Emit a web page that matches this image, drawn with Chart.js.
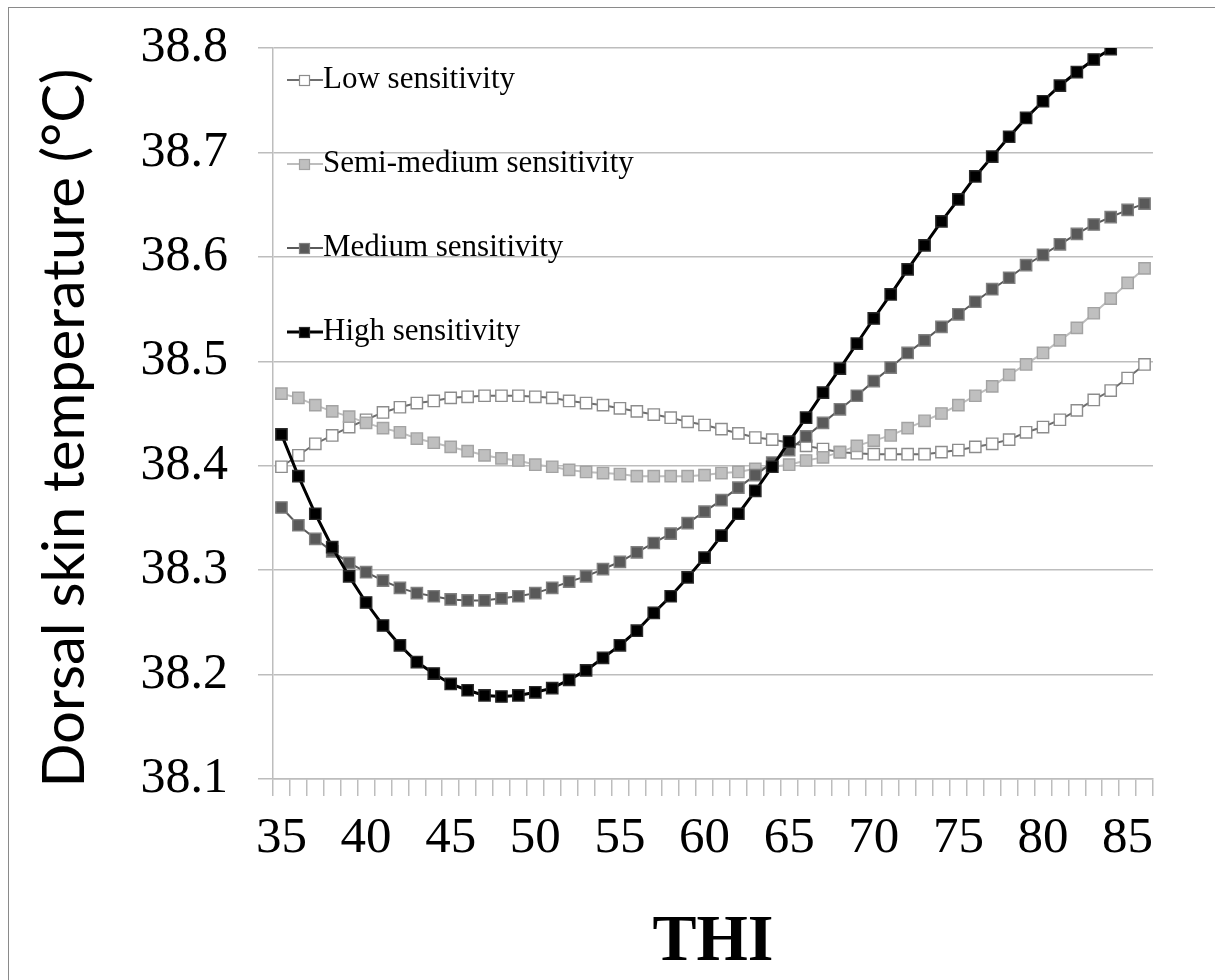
<!DOCTYPE html>
<html>
<head>
<meta charset="utf-8">
<script src="https://cdn.jsdelivr.net/npm/chart.js@4/dist/chart.umd.min.js"></script>
<style>
  html, body { margin: 0; padding: 0; background: #fff; overflow: hidden; }
  #wrap { position: relative; width: 1215px; height: 980px; }
  #frame { position: absolute; left: 8px; top: 7px; width: 1300px; height: 1100px; border: 1px solid #8a8a8a; box-sizing: border-box; pointer-events: none; }
  canvas { display: block; position: absolute; left: 0; top: 0; }
</style>
</head>
<body>
<div id="wrap">
  <canvas id="c" width="1215" height="980"></canvas>
  <div id="frame"></div>
</div>
<script>
// ---- Data ----
const thiLabels = [35,36,37,38,39,40,41,42,43,44,45,46,47,48,49,50,51,52,53,54,55,56,57,58,59,60,
                   61,62,63,64,65,66,67,68,69,70,71,72,73,74,75,76,77,78,79,80,81,82,83,84,85,86];

const lowSensitivity = [38.399,38.410,38.421,38.429,38.437,38.444,38.451,38.456,38.460,38.462,
  38.465,38.466,38.467,38.467,38.467,38.466,38.465,38.462,38.460,38.458,
  38.455,38.452,38.449,38.446,38.442,38.439,38.435,38.431,38.427,38.425,
  38.422,38.419,38.416,38.413,38.412,38.411,38.411,38.411,38.411,38.413,
  38.415,38.418,38.421,38.425,38.432,38.437,38.444,38.453,38.463,38.472,
  38.484,38.497];

const semiMediumSensitivity = [38.469,38.465,38.458,38.452,38.447,38.441,38.436,38.432,38.426,38.422,
  38.418,38.414,38.410,38.407,38.405,38.401,38.399,38.396,38.394,38.393,
  38.392,38.390,38.390,38.390,38.390,38.391,38.393,38.394,38.397,38.399,
  38.401,38.405,38.408,38.413,38.419,38.424,38.429,38.436,38.443,38.450,
  38.458,38.467,38.476,38.487,38.497,38.508,38.520,38.532,38.546,38.560,
  38.575,38.589];

const mediumSensitivity = [38.360,38.343,38.330,38.318,38.307,38.298,38.290,38.283,38.278,38.275,
  38.272,38.271,38.271,38.273,38.275,38.278,38.283,38.289,38.294,38.301,
  38.308,38.317,38.326,38.335,38.345,38.356,38.367,38.379,38.391,38.403,
  38.415,38.428,38.441,38.454,38.467,38.481,38.494,38.508,38.520,38.533,
  38.545,38.557,38.569,38.580,38.592,38.602,38.612,38.622,38.631,38.638,
  38.645,38.651];

const highSensitivity = [38.430,38.390,38.354,38.322,38.294,38.269,38.247,38.228,38.212,38.201,
  38.191,38.185,38.180,38.179,38.180,38.183,38.187,38.195,38.204,38.216,
  38.228,38.242,38.259,38.275,38.293,38.312,38.333,38.354,38.376,38.399,
  38.423,38.446,38.470,38.493,38.517,38.541,38.564,38.588,38.611,38.634,
  38.655,38.677,38.696,38.715,38.733,38.749,38.764,38.777,38.789,38.799,
  null,null];

const seriesNames = ['Low sensitivity','Semi-medium sensitivity','Medium sensitivity','High sensitivity'];
const yTicks = [38.1,38.2,38.3,38.4,38.5,38.6,38.7,38.8];
const xLabelStep = 5;

// ---- Styles ----
const styles = [
  {line:'#6e6e6e', fill:'#ffffff', edge:'#8c8c8c', lw:2},
  {line:'#bdbdbd', fill:'#bfbfbf', edge:'#a3a3a3', lw:2},
  {line:'#5a5a5a', fill:'#595959', edge:'#808080', lw:2},
  {line:'#000000', fill:'#000000', edge:'#2a2a2a', lw:3}
];
const seriesData = [lowSensitivity, semiMediumSensitivity, mediumSensitivity, highSensitivity];

function legendIcon(s) {
  const cv = document.createElement('canvas');
  cv.width = 36; cv.height = 14;
  const g = cv.getContext('2d');
  g.strokeStyle = s.line; g.lineWidth = s.lw;
  g.beginPath(); g.moveTo(0, 7); g.lineTo(36, 7); g.stroke();
  g.fillStyle = s.fill; g.fillRect(12.5, 2.5, 10, 10);
  g.strokeStyle = s.edge; g.lineWidth = 1.2; g.strokeRect(12.5, 2.5, 10, 10);
  return cv;
}
const icons = styles.map(legendIcon);

const datasets = seriesData.map((d, i) => ({
  label: seriesNames[i],
  data: d,
  borderColor: styles[i].line,
  borderWidth: styles[i].lw,
  backgroundColor: styles[i].fill,
  pointStyle: 'rect',
  pointRadius: 8,
  pointBorderWidth: 1.4,
  pointBackgroundColor: styles[i].fill,
  pointBorderColor: styles[i].edge,
  tension: 0,
  spanGaps: false,
  order: 4 - i
}));

const legendShift = {
  id: 'legendShift',
  afterLayout(chart) {
    const lg = chart.legend;
    if (!lg) return;
    lg.left = chart.chartArea.left - 23.5;
    lg.top = chart.chartArea.top - 36.5;
  }
};

const gridColor = '#bdbdbd';

new Chart(document.getElementById('c'), {
  type: 'line',
  data: { labels: thiLabels, datasets },
  plugins: [legendShift],
  options: {
    responsive: false,
    animation: false,
    devicePixelRatio: 1,
    layout: { padding: { left: 0, right: 62, top: 48, bottom: 0 } },
    plugins: {
      tooltip: { enabled: false },
      legend: {
        position: 'chartArea',
        align: 'start',
        labels: {
          usePointStyle: true,
          pointStyleWidth: 5,
          padding: 53,
          color: '#000',
          font: { family: '"Liberation Serif", "Times New Roman", serif', size: 31 },
          generateLabels(chart) {
            return chart.data.datasets.map((ds, i) => ({
              text: ds.label,
              datasetIndex: i,
              pointStyle: icons[i],
              fillStyle: styles[i].fill,
              strokeStyle: styles[i].edge,
              lineWidth: 0,
              hidden: false,
              fontColor: '#000'
            }));
          }
        }
      }
    },
    scales: {
      x: {
        type: 'category',
        offset: true,
        afterFit(s) { s.height = 201; },
        grid: {
          display: true,
          offset: true,
          drawOnChartArea: false,
          drawTicks: true,
          tickLength: 17,
          color: gridColor,
          lineWidth: 1.5
        },
        border: { display: true, color: gridColor, width: 1.5 },
        ticks: {
          autoSkip: false,
          maxRotation: 0,
          minRotation: 0,
          padding: 12,
          color: '#000',
          font: { family: '"Liberation Serif", "Times New Roman", serif', size: 51 },
          callback(val, idx) {
            const t = thiLabels[idx];
            return (t % xLabelStep === 0) ? String(t) : '';
          }
        },
        title: {
          display: true,
          text: 'THI',
          color: '#000',
          font: { family: '"Liberation Serif", "Times New Roman", serif', size: 66, weight: 'bold', lineHeight: 1 },
          padding: { top: 0, bottom: 4 }
        }
      },
      y: {
        min: yTicks[0],
        max: yTicks[yTicks.length - 1],
        afterFit(s) { s.width = 273; s.paddingTop = 10; s.paddingBottom = 10; },
        afterBuildTicks(s) { s.ticks = yTicks.map(v => ({ value: v })); },
        grid: {
          color: gridColor,
          lineWidth: 1.5,
          tickLength: 15,
          drawTicks: true
        },
        border: { display: true, color: gridColor, width: 1.5 },
        ticks: {
          padding: 30,
          color: '#000',
          font: { family: '"Liberation Serif", "Times New Roman", serif', size: 50 },
          callback(v) { return Number(v).toFixed(1); }
        },
        title: {
          display: true,
          text: 'Dorsal skin temperature (°C)\u2002',
          color: '#000',
          font: { family: 'Lato, "Open Sans", sans-serif', size: 58, lineHeight: 1.2 },
          padding: { top: 30, bottom: 0 }
        }
      }
    }
  }
});
</script>
</body>
</html>
